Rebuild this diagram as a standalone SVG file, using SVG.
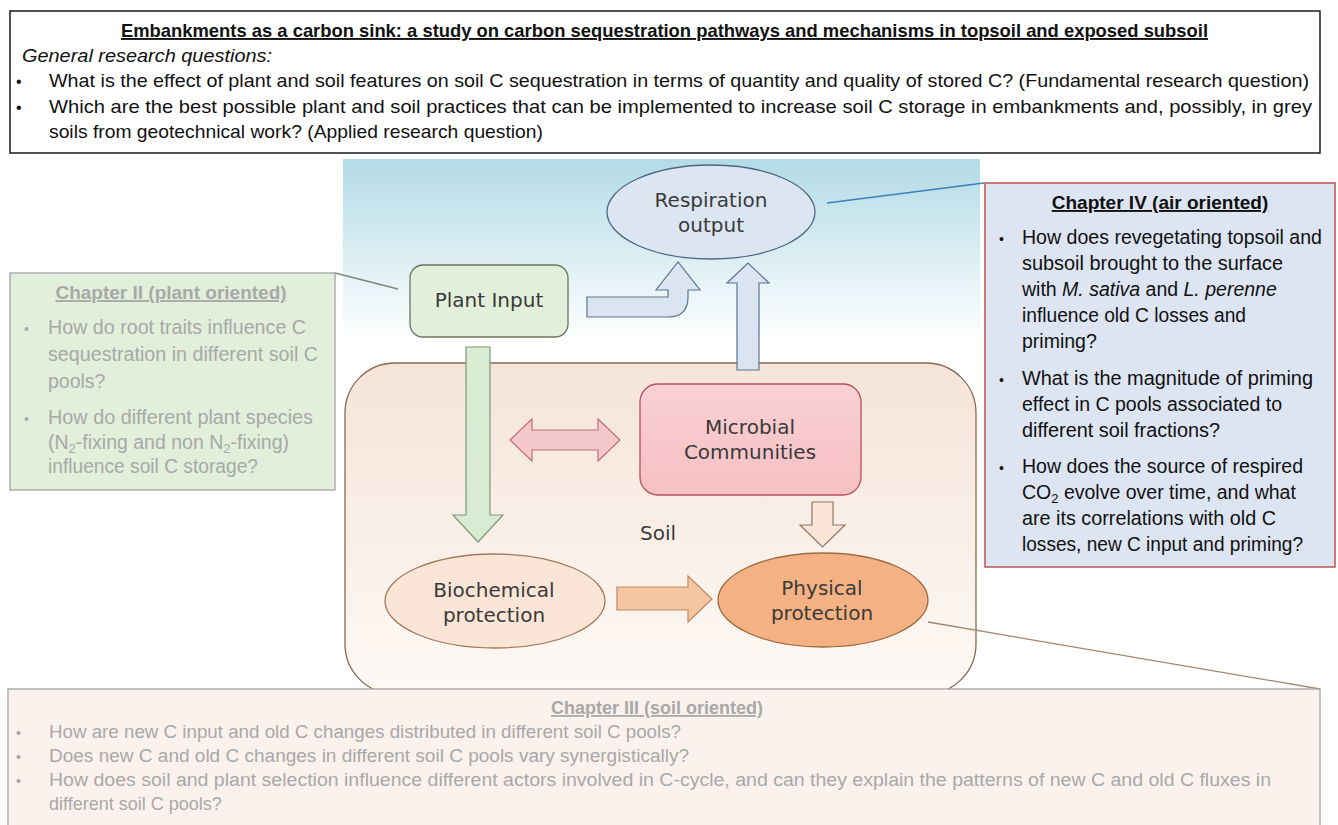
<svg xmlns="http://www.w3.org/2000/svg" width="1338" height="825" viewBox="0 0 1338 825">
<defs>
<linearGradient id="sky" x1="0" y1="0" x2="0" y2="1">
<stop offset="0" stop-color="#b3dbe6"/><stop offset="0.85" stop-color="#ffffff"/>
</linearGradient>
<linearGradient id="soil" x1="0" y1="0" x2="0" y2="1">
<stop offset="0" stop-color="#f5e4d9"/><stop offset="1" stop-color="#fdf9f5"/>
</linearGradient>
<linearGradient id="micro" x1="0" y1="0" x2="0" y2="1">
<stop offset="0" stop-color="#f9d0d3"/><stop offset="1" stop-color="#f6c0c4"/>
</linearGradient>
</defs>
<style>
.t{font-family:"Liberation Sans",Arial,sans-serif;fill:#111}
.g{fill:#a8a8a8}
.n{font-family:"DejaVu Sans",sans-serif;font-size:20px;fill:#3a3a3a;text-anchor:middle}
.b{font-weight:bold;text-decoration:underline}
.ln{fill:none;stroke-width:1.3}
</style>
<rect width="1338" height="825" fill="#ffffff"/>
<g id="header">
<rect x="10" y="11" width="1310" height="142" fill="#ffffff" stroke="#1a1a1a" stroke-width="1.5"/>
<text class="t b" x="121" y="37" font-size="19" textLength="1087" lengthAdjust="spacingAndGlyphs">Embankments as a carbon sink: a study on carbon sequestration pathways and mechanisms in topsoil and exposed subsoil</text>
<text class="t" x="22" y="62" font-size="19" font-style="italic" textLength="250" lengthAdjust="spacingAndGlyphs">General research questions:</text>
<text class="t" x="16" y="87" font-size="16">•</text>
<text class="t" x="49" y="87" font-size="19" textLength="1260" lengthAdjust="spacingAndGlyphs">What is the effect of plant and soil features on soil C sequestration in terms of quantity and quality of stored C? (Fundamental research question)</text>
<text class="t" x="16" y="113" font-size="16">•</text>
<text class="t" x="49" y="113" font-size="19" textLength="1263" lengthAdjust="spacingAndGlyphs">Which are the best possible plant and soil practices that can be implemented to increase soil C storage in embankments and, possibly, in grey</text>
<text class="t" x="49" y="138" font-size="19" textLength="494" lengthAdjust="spacingAndGlyphs">soils from geotechnical work? (Applied research question)</text>
</g>
<g id="sky">
<rect x="343" y="159" width="637" height="215" fill="url(#sky)"/>
</g>
<g id="soil">
<rect x="345" y="363" width="631" height="331" rx="50" ry="50" fill="url(#soil)" stroke="#8a6a52" stroke-width="1.3"/>
<text class="n" x="658" y="540">Soil</text>
</g>
<g id="connectors">
<line class="ln" x1="335" y1="273" x2="398" y2="289" stroke="#7d8a7a"/>
<line class="ln" x1="827" y1="203" x2="984" y2="183" stroke="#3c7fc0"/>
<line class="ln" x1="928" y1="622" x2="1320" y2="689" stroke="#a08672"/>
<path d="M466,347 H490 V515 H503 L478,542 L453,515 H466 Z" fill="#d9ebd3" stroke="#7f9a76" stroke-width="1.2"/>
<path d="M587,297 H668 V290 H656 L678,262 L700,290 H688 V297 Q688,317 668,317 H587 Z" fill="#dbe5f1" stroke="#5d7390" stroke-width="1.2"/>
<path d="M737,370 V283 H727 L748,263 L769,283 H759 V370 Z" fill="#dbe5f1" stroke="#5d7390" stroke-width="1.2"/>
<path d="M510,440 L532,419 V430 H598 V419 L620,440 L598,461 V450 H532 V461 Z" fill="#f5c9cc" stroke="#c0707c" stroke-width="1.2"/>
<path d="M812,502 H833 V525 H845 L822.5,547 L800,525 H812 Z" fill="#fbe5d6" stroke="#8a7868" stroke-width="1.2"/>
<path d="M617,587 H688 V576 L712,599 L688,622 V610 H617 Z" fill="#f6c6a2" stroke="#c0895e" stroke-width="1.2"/>
</g>
<g id="respiration">
<ellipse cx="711" cy="212" rx="104" ry="47" fill="#dce6f2" stroke="#4f6682" stroke-width="1.3"/>
<text class="n" x="711" y="207">Respiration</text>
<text class="n" x="711" y="232">output</text>
</g>
<g id="plant-input">
<rect x="410" y="265" width="158" height="72" rx="13" ry="13" fill="#e2efda" stroke="#6b7560" stroke-width="1.3"/>
<text class="n" x="489" y="307">Plant Input</text>
</g>
<g id="microbial">
<rect x="640" y="384" width="221" height="111" rx="18" ry="18" fill="url(#micro)" stroke="#b4525e" stroke-width="1.3"/>
<text class="n" x="750" y="434">Microbial</text>
<text class="n" x="750" y="459">Communities</text>
</g>
<g id="biochemical">
<ellipse cx="495" cy="601" rx="110" ry="47" fill="#fbe5d6" stroke="#a07a5c" stroke-width="1.3"/>
<text class="n" x="494" y="597">Biochemical</text>
<text class="n" x="494" y="622">protection</text>
</g>
<g id="physical">
<ellipse cx="823" cy="600" rx="105" ry="47" fill="#f4b183" stroke="#9c6a3c" stroke-width="1.3"/>
<text class="n" x="822" y="595">Physical</text>
<text class="n" x="822" y="620">protection</text>
</g>
<g id="chapter2">
<rect x="10" y="273" width="325" height="217" fill="#e2efda" stroke="#a3a3a3" stroke-width="1.3"/>
<text class="t g b" x="171" y="299" font-size="19" text-anchor="middle">Chapter II (plant oriented)</text>
<text class="t g" x="24" y="334" font-size="14">•</text>
<text class="t g" x="48" y="334" font-size="19.5" textLength="258" lengthAdjust="spacingAndGlyphs">How do root traits influence C</text>
<text class="t g" x="48" y="361" font-size="19.5" textLength="270" lengthAdjust="spacingAndGlyphs">sequestration in different soil C</text>
<text class="t g" x="48" y="388" font-size="19.5">pools?</text>
<text class="t g" x="24" y="424" font-size="14">•</text>
<text class="t g" x="48" y="424" font-size="19.5" textLength="265" lengthAdjust="spacingAndGlyphs">How do different plant species</text>
<text class="t g" x="48" y="449" font-size="19.5">(N<tspan font-size="13" dy="4">2</tspan><tspan dy="-4">-fixing and non N</tspan><tspan font-size="13" dy="4">2</tspan><tspan dy="-4">-fixing)</tspan></text>
<text class="t g" x="48" y="473" font-size="19.5" textLength="210" lengthAdjust="spacingAndGlyphs">influence soil C storage?</text>
</g>
<g id="chapter4">
<rect x="985" y="183" width="350" height="384" fill="#dce5f1" stroke="#c0504d" stroke-width="1.5"/>
<text class="t b" x="1160" y="209" font-size="19" text-anchor="middle">Chapter  IV (air oriented)</text>
<text class="t" x="999" y="244" font-size="14">•</text>
<text class="t" x="1022" y="244" font-size="19.5" textLength="300" lengthAdjust="spacingAndGlyphs">How does revegetating topsoil and</text>
<text class="t" x="1022" y="270" font-size="19.5" textLength="261" lengthAdjust="spacingAndGlyphs">subsoil brought to the surface</text>
<text class="t" x="1022" y="296" font-size="19.5">with <tspan font-style="italic">M. sativa</tspan> and <tspan font-style="italic">L. perenne</tspan></text>
<text class="t" x="1022" y="322" font-size="19.5" textLength="224" lengthAdjust="spacingAndGlyphs">influence old C losses and</text>
<text class="t" x="1022" y="348" font-size="19.5">priming?</text>
<text class="t" x="999" y="385" font-size="14">•</text>
<text class="t" x="1022" y="385" font-size="19.5" textLength="291" lengthAdjust="spacingAndGlyphs">What is the magnitude of priming</text>
<text class="t" x="1022" y="411" font-size="19.5" textLength="260" lengthAdjust="spacingAndGlyphs">effect in C pools associated to</text>
<text class="t" x="1022" y="437" font-size="19.5" textLength="198" lengthAdjust="spacingAndGlyphs">different soil fractions?</text>
<text class="t" x="999" y="473" font-size="14">•</text>
<text class="t" x="1022" y="473" font-size="19.5" textLength="281" lengthAdjust="spacingAndGlyphs">How does the source of respired</text>
<text class="t" x="1022" y="499" font-size="19.5">CO<tspan font-size="13" dy="4">2</tspan><tspan dy="-4"> evolve over time, and what</tspan></text>
<text class="t" x="1022" y="525" font-size="19.5" textLength="254" lengthAdjust="spacingAndGlyphs">are its correlations with old C</text>
<text class="t" x="1022" y="551" font-size="19.5" textLength="281" lengthAdjust="spacingAndGlyphs">losses, new C input and priming?</text>
</g>
<g id="chapter3">
<rect x="8" y="689" width="1312" height="150" fill="#fbf2ed" stroke="#a3a3a3" stroke-width="1.3"/>
<text class="t g b" x="657" y="714" font-size="18" text-anchor="middle">Chapter III (soil oriented)</text>
<text class="t g" x="16" y="738" font-size="14">•</text>
<text class="t g" x="49" y="738" font-size="18" textLength="632" lengthAdjust="spacingAndGlyphs">How are new C input and old C changes distributed in different soil C pools?</text>
<text class="t g" x="16" y="762" font-size="14">•</text>
<text class="t g" x="49" y="762" font-size="18" textLength="640" lengthAdjust="spacingAndGlyphs">Does new C and old C changes in different soil C pools vary synergistically?</text>
<text class="t g" x="16" y="786" font-size="14">•</text>
<text class="t g" x="49" y="786" font-size="18" textLength="1222" lengthAdjust="spacingAndGlyphs">How does soil and plant selection influence different actors involved in C-cycle, and can they explain the patterns of new C and old C fluxes in</text>
<text class="t g" x="49" y="810" font-size="18">different soil C pools?</text>
</g>
</svg>
